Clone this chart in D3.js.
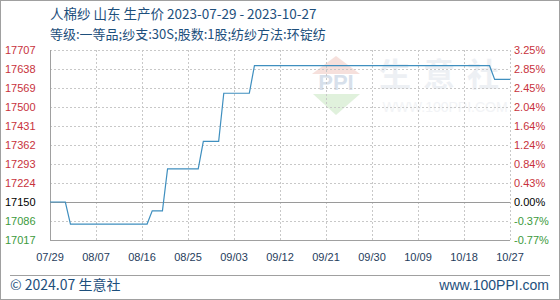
<!DOCTYPE html>
<html>
<head>
<meta charset="utf-8">
<script src="https://cdn.jsdelivr.net/npm/d3@7"></script>
<style>
  body { margin: 0; background: #fff; }
  text { font-family: "Liberation Sans", "DejaVu Sans", sans-serif; }
  .cjk { font-family: "Noto Sans CJK SC", sans-serif; }
</style>
</head>
<body>
<div id="chart"></div>
<script>
(function () {

// data
const dates = ["2023-07-29", "2023-08-01", "2023-08-02", "2023-08-17", "2023-08-18",
  "2023-08-20", "2023-08-21", "2023-08-27", "2023-08-28", "2023-08-31",
  "2023-09-01", "2023-09-06", "2023-09-07", "2023-10-23", "2023-10-24", "2023-10-27"];
const prices = [17150, 17150, 17075, 17075, 17120,
  17120, 17275, 17275, 17375, 17375,
  17550, 17550, 17650, 17650, 17600, 17600];

const yTicks = [17017, 17086, 17150, 17224, 17293, 17362, 17431, 17500, 17569, 17638, 17707];
const pctTicks = ["-0.77%", "-0.37%", "0.00%", "0.43%", "0.84%", "1.24%", "1.64%", "2.04%", "2.45%", "2.85%", "3.25%"];
const xTickLabels = ["07/29", "08/07", "08/16", "08/25", "09/03", "09/12", "09/21", "09/30", "10/09", "10/18", "10/27"];
const basePrice = 17150;

const title1 = "人棉纱 山东 生产价 2023-07-29 - 2023-10-27";
const title2 = "等级:一等品;纱支:30S;股数:1股;纺纱方法:环锭纺";

const W = 560, H = 300;
const plot = {left: 50, right: 510, top: 50, bottom: 240};

const svg = d3.select("#chart").append("svg")
    .attr("width", W)
    .attr("height", H);

// outer frame
svg.append("rect")
  .attr("x", 0.5).attr("y", 0.5)
  .attr("width", W - 1).attr("height", H - 1)
  .attr("fill", "#fff")
  .attr("stroke", "#a0a0a0");

const parse = d3.utcParse("%Y-%m-%d");
const data = dates.map((d, i) => ({date: parse(d), price: prices[i]}));

const x = d3.scaleUtc()
  .domain([parse("2023-07-29"), parse("2023-10-27")])
  .range([plot.left, plot.right]);

// tick labels are evenly spaced in the picture, not linear in price
const y = d3.scaleLinear()
  .domain(yTicks)
  .range(yTicks.map((d, i) => plot.bottom - i * (plot.bottom - plot.top) / (yTicks.length - 1)));

const xTickDates = xTickLabels.map(l => parse("2023-" + l.replace("/", "-")));

// watermark
const wm = svg.append("g").attr("opacity", 0.55);
wm.append("path")
  .attr("d", "M336,56 L312,74 L360,74 Z")
  .attr("fill", "#f0c8c0");
wm.append("text")
  .attr("x", 336).attr("y", 90)
  .attr("text-anchor", "middle")
  .attr("font-size", 22).attr("font-weight", "bold")
  .attr("fill", "#b8c8dc")
  .text("PPI");
wm.append("path")
  .attr("d", "M313,94 L360,94 L336,115 Z")
  .attr("fill", "#c8e6c0");
wm.append("text")
  .attr("class", "cjk")
  .attr("x", 445).attr("y", 86)
  .attr("text-anchor", "middle")
  .attr("font-size", 32).attr("font-weight", "bold")
  .attr("letter-spacing", 12)
  .attr("fill", "#dfe5ec")
  .text("生意社");
wm.append("text")
  .attr("x", 445).attr("y", 112)
  .attr("text-anchor", "middle")
  .attr("font-size", 14)
  .attr("fill", "#e8ebef")
  .text("WWW.100PPI.COM");

// grid
svg.append("g")
  .selectAll("line")
  .data(yTicks.filter(d => d !== basePrice))
  .join("line")
  .attr("x1", plot.left).attr("x2", plot.right)
  .attr("y1", d => Math.round(y(d)) + 0.5)
  .attr("y2", d => Math.round(y(d)) + 0.5)
  .attr("stroke", "#c8c8c8")
  .attr("stroke-dasharray", "2,2");

svg.append("g")
  .selectAll("line")
  .data(xTickDates)
  .join("line")
  .attr("x1", d => Math.round(x(d)) + 0.5)
  .attr("x2", d => Math.round(x(d)) + 0.5)
  .attr("y1", plot.top).attr("y2", plot.bottom)
  .attr("stroke", "#c8c8c8")
  .attr("stroke-dasharray", "2,2");

// axes lines
svg.append("line")
  .attr("x1", plot.left + 0.5).attr("x2", plot.left + 0.5)
  .attr("y1", plot.top).attr("y2", plot.bottom)
  .attr("stroke", "#a0a0a0");
svg.append("line")
  .attr("x1", plot.left).attr("x2", plot.right)
  .attr("y1", plot.bottom + 0.5).attr("y2", plot.bottom + 0.5)
  .attr("stroke", "#a0a0a0");
svg.append("line")
  .attr("x1", plot.left).attr("x2", plot.right)
  .attr("y1", Math.round(y(basePrice)) + 0.5).attr("y2", Math.round(y(basePrice)) + 0.5)
  .attr("stroke", "#9a9a9a");

const tickColor = v => v > basePrice ? "#c8323c" : (v < basePrice ? "#3c9a3c" : "#000");

// left labels
svg.append("g")
  .selectAll("text")
  .data(yTicks)
  .join("text")
  .attr("x", 5)
  .attr("y", d => y(d))
  .attr("dy", "0.35em")
  .attr("font-size", 11)
  .attr("fill", tickColor)
  .text(d => d);

// right labels
svg.append("g")
  .selectAll("text")
  .data(yTicks)
  .join("text")
  .attr("x", 514)
  .attr("y", d => y(d))
  .attr("dy", "0.35em")
  .attr("font-size", 11)
  .attr("fill", tickColor)
  .text((d, i) => pctTicks[i]);

// x labels
svg.append("g")
  .selectAll("text")
  .data(xTickDates)
  .join("text")
  .attr("x", d => x(d))
  .attr("y", 257)
  .attr("dy", "0.35em")
  .attr("text-anchor", "middle")
  .attr("font-size", 11)
  .attr("fill", "#1f3d5c")
  .text((d, i) => xTickLabels[i]);

// the price line
const line = d3.line()
  .x(d => x(d.date))
  .y(d => y(d.price));

svg.append("path")
  .datum(data)
  .attr("d", line)
  .attr("fill", "none")
  .attr("stroke", "#3f8fbf")
  .attr("stroke-width", 1.2);

// titles
svg.append("text")
  .attr("class", "cjk")
  .attr("x", 50).attr("y", 19)
  .attr("font-size", 13.5)
  .attr("fill", "#1d4f7c")
  .text(title1);
svg.append("text")
  .attr("class", "cjk")
  .attr("x", 50).attr("y", 38.5)
  .attr("font-size", 13)
  .attr("fill", "#1d4f7c")
  .text(title2);

// footer
svg.append("line")
  .attr("x1", 10).attr("x2", 550)
  .attr("y1", 275.5).attr("y2", 275.5)
  .attr("stroke", "#a0a0a0");
svg.append("text")
  .attr("class", "cjk")
  .attr("x", 10).attr("y", 290)
  .attr("font-size", 14)
  .attr("fill", "#1d4f7c")
  .text("© 2024.07 生意社");
svg.append("text")
  .attr("x", 549).attr("y", 290)
  .attr("text-anchor", "end")
  .attr("font-size", 14)
  .attr("fill", "#1d4f7c")
  .text("www.100PPI.com");

})()
</script>
</body>
</html>
